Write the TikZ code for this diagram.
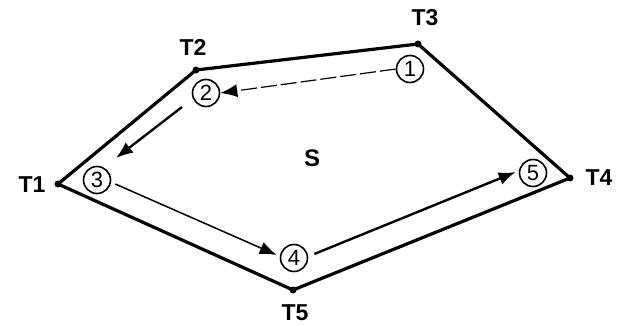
\documentclass[tikz,border=0pt]{standalone}
\usepackage{fontspec}
\setmainfont{Liberation Sans}
\usetikzlibrary{arrows.meta,calc}
\begin{document}
\begin{tikzpicture}[x=1pt,y=-1pt,
  vert/.style={circle,fill=black,inner sep=0pt,minimum size=7pt},
  lab/.style={font=\fontsize{23}{25}\selectfont\bfseries},
  num/.style={circle,draw,line width=1.6pt,inner sep=0pt,minimum size=27pt,font=\fontsize{22}{24}\selectfont},
  edge/.style={line width=3.2pt,line join=round},
  flow/.style={line width=2.4pt,-{Latex[length=17pt,width=13pt]}}]
\useasboundingbox (0,0) rectangle (626,326);
\node[vert] (t1) at (58,184) {};
\node[vert] (t2) at (196,70) {};
\node[vert] (t3) at (418,44) {};
\node[vert] (t4) at (570,178) {};
\node[vert] (t5) at (293,290) {};
\draw[edge] (t1.center) -- (t2.center) -- (t3.center) -- (t4.center) -- (t5.center) -- cycle;
\node[lab] (l1) at (32,185) {T1};
\node[lab] (l2) at (193,47) {T2};
\node[lab] (l3) at (425,18) {T3};
\node[lab] (l4) at (599,178) {T4};
\node[lab] (l5) at (295,313) {T5};
\node[lab,font=\fontsize{24}{26}\selectfont\bfseries] (s) at (312,158) {S};
\node[num] (n1) at (410,69) {1};
\node[num] (n2) at (206,93) {2};
\node[num] (n3) at (97,180) {3};
\node[num] (n4) at (294,258) {4};
\node[num] (n5) at (533,173) {5};
\draw[flow,line width=1.2pt,dash pattern=on 16pt off 4pt] (n1.west) -- (n2.east);
\draw[flow] ($(n2)+(-24,14)$) -- ($(n3)+(19,-22)$);
\draw[flow,line width=1.5pt] ($(n3.east)+(4,4)$) -- ($(n4.west)+(-3,-3)$);
\draw[flow] ($(n4.east)+(6,-4)$) -- ($(n5.west)+(-3,-1)$);
\end{tikzpicture}
\end{document}
